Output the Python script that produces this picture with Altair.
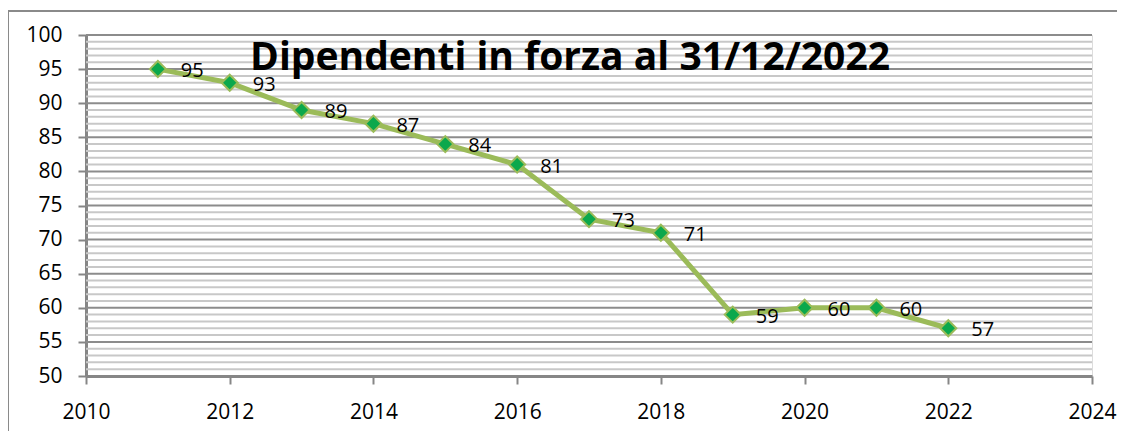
import altair as alt
import pandas as pd

years = [2011, 2012, 2013, 2014, 2015, 2016, 2017, 2018, 2019, 2020, 2021, 2022]
dipendenti = [95, 93, 89, 87, 84, 81, 73, 71, 59, 60, 60, 57]
x_ticks = [2010, 2012, 2014, 2016, 2018, 2020, 2022, 2024]
y_ticks = [50, 55, 60, 65, 70, 75, 80, 85, 90, 95, 100]
y_grid = list(range(51, 101))
title_text = "Dipendenti in forza al 31/12/2022"

df = pd.DataFrame({"anno": years, "valore": dipendenti})
grid_df = pd.DataFrame({"valore": y_grid, "major": [v % 5 == 0 for v in y_grid]})

FONT = "Open Sans"
AXIS_GRAY = "#868686"

y_scale = alt.Scale(domain=[50, 100], nice=False, zero=False)
y_axis = alt.Axis(
    values=y_ticks, tickCount=11, title=None, grid=False,
    domainColor=AXIS_GRAY, domainWidth=3, tickColor=AXIS_GRAY, tickWidth=2,
    tickSize=8, labelFont=FONT, labelFontSize=21, labelColor="#000000",
    labelPadding=16, labelFlush=False, labelOverlap=False,
)
y_enc = alt.Y("valore:Q", scale=y_scale, axis=y_axis)

x_enc = alt.X(
    "anno:Q",
    scale=alt.Scale(domain=[2010, 2024], nice=False, zero=False),
    axis=alt.Axis(
        values=x_ticks, format="d", title=None, grid=False,
        domainColor=AXIS_GRAY, domainWidth=3, tickColor=AXIS_GRAY, tickWidth=2,
        tickSize=8, labelFont=FONT, labelFontSize=21, labelColor="#000000",
        labelPadding=17, labelFlush=False, labelOverlap=False,
    ),
)

grid = alt.Chart(grid_df).mark_rule(strokeWidth=2).encode(
    y=y_enc,
    color=alt.Color(
        "major:N",
        scale=alt.Scale(domain=[True, False], range=["#8c8c8c", "#c8c8c8"]),
        legend=None,
    ),
)

base = alt.Chart(df)

line = base.mark_line(color="#9BBB59", strokeWidth=5).encode(x=x_enc, y=y_enc)
points = base.mark_point(
    shape="diamond", filled=True, fill="#0BA84C", stroke="#9BBB59",
    strokeWidth=2, size=260, opacity=1,
).encode(x=x_enc, y=y_enc)
labels = base.mark_text(
    align="left", baseline="middle", dx=23, dy=2, font=FONT, fontSize=20, color="#000000",
).encode(x=x_enc, y=y_enc, text="valore:Q")

border_top = base.mark_rule(color="#8a8a8a", strokeWidth=2).encode(
    x=alt.value(-78), x2=alt.value(1050), y=alt.value(-24)
)
border_left = base.mark_rule(color="#8a8a8a", strokeWidth=2).encode(
    x=alt.value(-78), y=alt.value(-24), y2=alt.value(420)
)

chart = alt.layer(grid, border_top, border_left, line, points, labels).properties(
    width=1006,
    height=341,
    autosize=alt.AutoSizeParams(type="none"),
    padding={"left": 78, "top": 27, "right": 25, "bottom": 55},
    title=alt.TitleParams(
        text=title_text, font=FONT, fontSize=39, fontWeight="bold", color="#000000",
        anchor="middle", dx=-19, dy=103, baseline="alphabetic",
    ),
).configure_view(stroke=None).configure(background="white").configure_axisY(labelOverlap=False)

chart.save("out.html", embed_options={"renderer": "svg", "actions": False})
